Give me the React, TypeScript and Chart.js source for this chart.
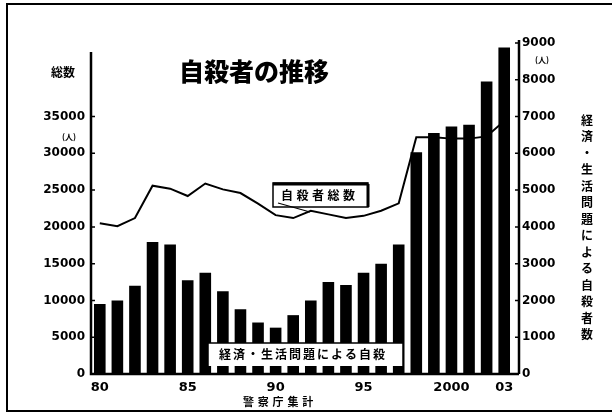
import React, { useEffect, useRef } from 'react';
import { Chart, registerables } from 'chart.js';

Chart.register(...registerables);

const years = [
  '1980', '1981', '1982', '1983', '1984', '1985', '1986', '1987', '1988', '1989', '1990', '1991',
  '1992', '1993', '1994', '1995', '1996', '1997', '1998', '1999', '2000', '2001', '2002', '2003',
];
const yearTickLabels = [
  '80', '', '', '', '', '85', '', '', '', '', '90', '',
  '', '', '', '95', '', '', '', '', '2000', '', '', '03',
];
// 経済・生活問題による自殺者数 (right axis)
const economicSuicides = [
  1900, 2000, 2400, 3590, 3520, 2550, 2750, 2250, 1760, 1400, 1260, 1600,
  2000, 2500, 2420, 2750, 3000, 3520, 6030, 6550, 6730, 6780, 7950, 8880,
];
// 自殺者総数 (left axis)
const totalSuicides = [
  20500, 20100, 21200, 25600, 25200, 24200, 25900, 25100, 24600, 23150, 21600, 21200,
  22200, 21700, 21200, 21500, 22200, 23200, 32200, 32200, 32000, 32000, 32300, 34400,
];
const leftTicks = [0, 5000, 10000, 15000, 20000, 25000, 30000, 35000];
const rightTicks = [0, 1000, 2000, 3000, 4000, 5000, 6000, 7000, 8000, 9000];

const titleText = '自殺者の推移';
const leftAxisTitle = '総数';
const unitText = '(人)';
const rightAxisTitle = '経済・生活問題による自殺者数';
const lineLabel = '自殺者総数';
const barLabel = '経済・生活問題による自殺';
const sourceText = '警察庁集計';

const JP = '"Noto Sans CJK JP", sans-serif';

function drawSpaced(ctx: CanvasRenderingContext2D, text: string, x0: number, y: number, step: number) {
  const chars = Array.from(text);
  chars.forEach((c, i) => ctx.fillText(c, x0 + i * step, y));
}

const decorPlugin = {
  id: 'decor',
  afterDraw(chart: any) {
    const ctx: CanvasRenderingContext2D = chart.ctx;
    const area = chart.chartArea;
    const yL = chart.scales.y;
    const yR = chart.scales.y1;
    const bottom = yL.getPixelForValue(0);
    const leftX = area.left;
    const rightX = area.right + 6;
    ctx.save();
    ctx.strokeStyle = '#000';
    ctx.fillStyle = '#000';

    // outer frame
    ctx.lineWidth = 2;
    ctx.beginPath();
    ctx.moveTo(612, 4);
    ctx.lineTo(7, 4);
    ctx.lineTo(7, 411);
    ctx.lineTo(612, 411);
    ctx.stroke();

    // axes
    ctx.lineWidth = 2.5;
    ctx.beginPath();
    ctx.moveTo(leftX, 52);
    ctx.lineTo(leftX, bottom);
    ctx.lineTo(rightX, bottom);
    ctx.moveTo(rightX, yR.getPixelForValue(9000) - 3);
    ctx.lineTo(rightX, bottom);
    ctx.stroke();
    ctx.lineWidth = 1.5;
    ctx.beginPath();
    leftTicks.forEach((v) => {
      const y = yL.getPixelForValue(v);
      ctx.moveTo(leftX, y);
      ctx.lineTo(leftX + 4, y);
    });
    rightTicks.forEach((v) => {
      const y = yR.getPixelForValue(v);
      ctx.moveTo(rightX - 4, y);
      ctx.lineTo(rightX, y);
    });
    ctx.stroke();

    // title
    ctx.textAlign = 'center';
    ctx.textBaseline = 'middle';
    ctx.font = `900 25px ${JP}`;
    ctx.lineWidth = 3;
    ctx.strokeStyle = '#fff';
    ctx.strokeText(titleText, 254, 71);
    ctx.fillText(titleText, 254, 71);
    ctx.strokeStyle = '#000';

    // left axis title + unit
    ctx.font = `bold 12px ${JP}`;
    ctx.fillText(leftAxisTitle, 63, 72);
    ctx.font = `bold 8px ${JP}`;
    ctx.fillText(unitText, 69, 137);
    ctx.fillText(unitText, 542, 60);

    // right vertical title
    ctx.font = `bold 12px ${JP}`;
    Array.from(rightAxisTitle).forEach((c, i) => ctx.fillText(c, 587, 120 + i * 16.5));

    // source
    ctx.font = `bold 11px ${JP}`;
    drawSpaced(ctx, sourceText, 248.5, 402, 14.8);

    // line label box
    ctx.fillStyle = '#fff';
    ctx.fillRect(273, 183, 95, 24);
    ctx.strokeStyle = '#000';
    ctx.lineWidth = 1.5;
    ctx.strokeRect(273, 183, 95, 24);
    ctx.lineWidth = 3;
    ctx.beginPath();
    ctx.moveTo(273, 184);
    ctx.lineTo(368, 184);
    ctx.moveTo(368, 184);
    ctx.lineTo(368, 207);
    ctx.stroke();
    ctx.lineWidth = 1.2;
    ctx.beginPath();
    ctx.moveTo(278, 203);
    ctx.lineTo(310, 212);
    ctx.stroke();
    ctx.fillStyle = '#000';
    ctx.font = `bold 12px ${JP}`;
    drawSpaced(ctx, lineLabel, 287, 195, 15.5);

    // bar label box
    ctx.fillStyle = '#fff';
    ctx.fillRect(208, 343, 195, 23);
    ctx.lineWidth = 1.5;
    ctx.beginPath();
    ctx.moveTo(208, 366);
    ctx.lineTo(208, 343);
    ctx.lineTo(403, 343);
    ctx.lineTo(403, 366);
    ctx.stroke();
    ctx.fillStyle = '#000';
    ctx.font = `bold 12px ${JP}`;
    drawSpaced(ctx, barLabel, 225, 354, 14);
    ctx.restore();
  },
};

export default function App() {
  const ref = useRef<HTMLCanvasElement | null>(null);
  useEffect(() => {
    if (!ref.current) return;
    const tickFont = { family: '"DejaVu Sans", sans-serif', weight: 'bold' as const, size: 12 };
    const chart = new Chart(ref.current, {
      type: 'bar',
      data: {
        labels: years,
        datasets: [
          {
            type: 'line',
            label: lineLabel,
            data: totalSuicides,
            yAxisID: 'y',
            borderColor: '#000',
            borderWidth: 2,
            pointRadius: 0,
            tension: 0,
            fill: false,
            order: 0,
          } as any,
          {
            type: 'bar',
            label: barLabel,
            data: economicSuicides,
            yAxisID: 'y1',
            backgroundColor: '#000',
            borderWidth: 0,
            barPercentage: 0.66,
            categoryPercentage: 1,
            order: 1,
          },
        ],
      },
      options: {
        animation: false,
        responsive: false,
        devicePixelRatio: 1,
        layout: { padding: { top: 43, left: 0, right: 0, bottom: 0 } },
        plugins: { legend: { display: false }, tooltip: { enabled: false }, title: { display: false } },
        scales: {
          x: {
            grid: { display: false, drawTicks: false },
            border: { display: false },
            ticks: {
              autoSkip: false,
              maxRotation: 0,
              padding: 6,
              color: '#000',
              font: { ...tickFont, size: 13 },
              callback: (_v: any, i: number) => yearTickLabels[i],
            },
            afterFit: (s: any) => { s.height = 40; },
          },
          y: {
            position: 'left',
            min: 0,
            max: 45000,
            grid: { display: false, drawTicks: false },
            border: { display: false },
            ticks: {
              stepSize: 5000,
              padding: 6,
              color: '#000',
              font: tickFont,
              callback: (v: any) => (leftTicks.includes(Number(v)) ? String(v) : ''),
            },
            afterFit: (s: any) => { s.width = 91; },
          },
          y1: {
            position: 'right',
            min: 0,
            max: 9000,
            grid: { display: false, drawTicks: false },
            border: { display: false },
            ticks: {
              stepSize: 1000,
              padding: 9,
              color: '#000',
              font: tickFont,
              callback: (v: any) => (rightTicks.includes(Number(v)) ? String(v) : ''),
            },
            afterFit: (s: any) => { s.width = 99; },
          },
        },
      },
      plugins: [decorPlugin],
    });
    return () => chart.destroy();
  }, []);
  return (
    <div style={{ position: 'fixed', left: 0, top: 0, width: 612, height: 414, background: '#fff' }}>
      <canvas ref={ref} width={612} height={414} style={{ width: 612, height: 414, display: 'block' }} />
    </div>
  );
}
